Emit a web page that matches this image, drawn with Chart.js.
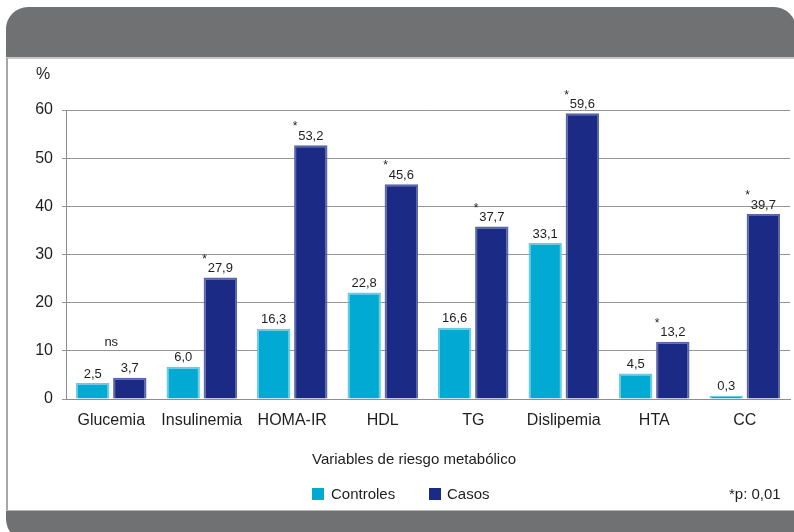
<!DOCTYPE html>
<html>
<head>
<meta charset="utf-8">
<script src="https://cdn.jsdelivr.net/npm/chart.js@4/dist/chart.umd.min.js"></script>
<style>
    html, body { margin: 0; padding: 0; background: #fff; }
    #wrap { position: relative; width: 794px; height: 532px; overflow: hidden; font-family: "Liberation Sans", Arial, sans-serif; }
    .header { position: absolute; left: 6px; top: 7px; width: 790px; height: 50px; background: #707173; border-radius: 22px 22px 0 0; border-bottom: 2px solid #c9c9c9; }
    .side { position: absolute; left: 6px; top: 58px; width: 0; height: 460px; border-left: 2px solid #a7a7a7; }
    .footer { position: absolute; left: 6px; top: 510px; width: 800px; height: 30px; background: #707173; border-radius: 0 0 0 22px; border-top: 1px solid #b5b5b5; }
    canvas { position: absolute; left: 0; top: 0; }
</style>
</head>
<body>
<div id="wrap">
    <div class="header"></div>
    <div class="side"></div>
    <div class="footer"></div>
    <canvas id="chart" width="794" height="532"></canvas>
</div>
<script>
// --- data ---
const categories = ['Glucemia', 'Insulinemia', 'HOMA-IR', 'HDL', 'TG', 'Dislipemia', 'HTA', 'CC'];
const controles = [3.3, 6.7, 14.6, 22.1, 14.8, 32.4, 5.3, 0.7];     // bar heights as drawn
const casos = [4.4, 25.2, 52.7, 44.6, 35.8, 59.3, 11.9, 38.4];
const controlesLabels = ['2,5', '6,0', '16,3', '22,8', '16,6', '33,1', '4,5', '0,3'];
const casosLabels = ['3,7', '27,9', '53,2', '45,6', '37,7', '59,6', '13,2', '39,7'];
const casosSig = [false, true, true, true, true, true, true, true];
const yTicks = [0, 10, 20, 30, 40, 50, 60];

const FONT = '"Liberation Sans", Arial, sans-serif';
const TXT = '#1e1e1e';

// value labels, asterisks and the loose texts around the plot
const labelsPlugin = {
    id: 'labels',
    afterDatasetsDraw(chart) {
        const ctx = chart.ctx;
        ctx.save();
        ctx.fillStyle = TXT;
        ctx.textAlign = 'center';
        ctx.textBaseline = 'middle';

        const texts = [controlesLabels, casosLabels];
        texts.forEach((list, di) => {
            chart.getDatasetMeta(di).data.forEach((bar, i) => {
                ctx.font = '13px ' + FONT;
                ctx.fillText(list[i], bar.x, bar.y - 9);
                if (di === 1 && casosSig[i]) {
                    ctx.font = '12px ' + FONT;
                    ctx.fillText('*', bar.x - bar.width / 2 + 1, bar.y - 18);
                }
            });
        });

        // "ns" over the Glucemia pair
        const a = chart.getDatasetMeta(0).data[0], b = chart.getDatasetMeta(1).data[0];
        ctx.font = '13px ' + FONT;
        ctx.fillText('ns', (a.x + b.x) / 2, chart.scales.y.getPixelForValue(11.8));

        // y unit
        ctx.font = '16px ' + FONT;
        ctx.fillText('%', 43, 75);

        // axis title
        ctx.font = '15px ' + FONT;
        ctx.fillText('Variables de riesgo metabólico', 414, 460);

        // legend
        ctx.textAlign = 'left';
        ctx.fillStyle = '#00aad2';
        ctx.fillRect(312, 488, 12, 12);
        ctx.fillStyle = '#1b2a84';
        ctx.fillRect(429, 488, 12, 12);
        ctx.fillStyle = TXT;
        ctx.fillText('Controles', 331, 495);
        ctx.fillText('Casos', 447, 495);
        ctx.fillText('*p: 0,01', 729, 495);
        ctx.restore();
    }
};

new Chart(document.getElementById('chart'), {
    type: 'bar',
    data: {
        labels: categories,
        datasets: [
            {
                label: 'Controles',
                data: controles,
                backgroundColor: '#00aad2',
                borderColor: '#6ccbe4',
                borderWidth: 2,
                borderSkipped: 'bottom',
                categoryPercentage: 0.82,
                barPercentage: 0.9
            },
            {
                label: 'Casos',
                data: casos,
                backgroundColor: '#1b2a84',
                borderColor: '#5a66aa',
                borderWidth: 2,
                borderSkipped: 'bottom',
                categoryPercentage: 0.82,
                barPercentage: 0.9
            }
        ]
    },
    options: {
        responsive: false,
        animation: false,
        layout: { padding: { top: 110, right: 4, left: 0, bottom: 0 } },
        plugins: {
            legend: { display: false },
            tooltip: { enabled: false }
        },
        scales: {
            x: {
                grid: { display: false, drawTicks: false },
                border: { display: true, color: '#8e8e8e' },
                ticks: { color: TXT, font: { family: FONT, size: 16 }, padding: 12, maxRotation: 0, autoSkip: false },
                afterFit(scale) { scale.height = 133; }
            },
            y: {
                min: 0,
                max: 60,
                afterBuildTicks(scale) { scale.ticks = yTicks.map(v => ({ value: v })); },
                grid: { color: '#959595', tickLength: 4, drawTicks: true },
                border: { display: true, color: '#8e8e8e' },
                ticks: { color: TXT, font: { family: FONT, size: 16 }, padding: 9 },
                afterFit(scale) { scale.width = 66; }
            }
        }
    },
    plugins: [labelsPlugin]
});
</script>
</body>
</html>
